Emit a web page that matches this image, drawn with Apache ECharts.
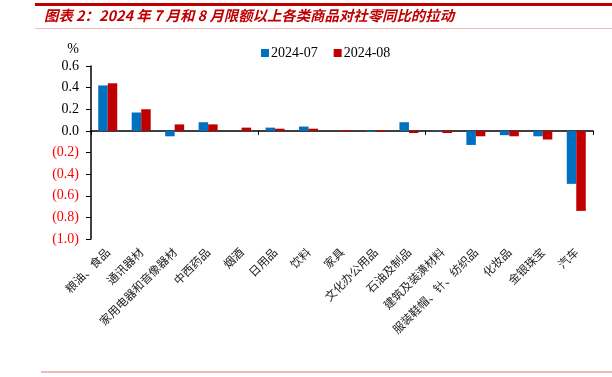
<!DOCTYPE html>
<html>
<head>
<meta charset="utf-8">
<script src="https://cdn.jsdelivr.net/npm/echarts@6/dist/echarts.min.js"></script>
<style>
  html, body { margin: 0; padding: 0; background: #fff; }
  #main { width: 612px; height: 377px; }
</style>
</head>
<body>
<div id="main"></div>
<script>
// 类目
var categories = ['粮油、食品', '通讯器材', '家用电器和音像器材', '中西药品', '烟酒', '日用品', '饮料', '家具',
    '文化办公用品', '石油及制品', '建筑及装潢材料', '服装鞋帽、针、纺织品', '化妆品', '金银珠宝', '汽车'];
// 对社零同比的拉动, %
var jul = [0.42, 0.17, -0.05, 0.08, 0.00, 0.03, 0.04, 0.00, -0.01, 0.08, -0.005, -0.13, -0.04, -0.05, -0.49];
var aug = [0.44, 0.20, 0.06, 0.06, 0.03, 0.02, 0.02, -0.01, -0.01, -0.02, -0.02, -0.05, -0.05, -0.08, -0.74];
var seriesNames = ['2024-07', '2024-08'];

var serif = '"Liberation Serif", "DejaVu Serif", serif';
var cjk = '"Noto Sans CJK SC", sans-serif';

var mychart = echarts.init(document.getElementById('main'));
var option = {
    animation: false,
    color: ['#0070C0', '#C00000'],
    grid: { left: 91, right: 19, top: 66, bottom: 138 },
    legend: {
        data: seriesNames,
        top: 41,
        left: 256,
        itemWidth: 8,
        itemHeight: 8,
        itemGap: 16,
        icon: 'rect',
        textStyle: { fontFamily: serif, fontSize: 14, color: '#000', padding: [0, 0, 0, -3] }
    },
    graphic: [
        { type: 'rect', shape: { x: 35, y: 3, width: 577, height: 3 }, style: { fill: '#C00000' } },
        {
            type: 'text', left: 44, top: 8,
            style: {
                text: '图表 2：2024 年 7 月和 8 月限额以上各类商品对社零同比的拉动',
                fontFamily: cjk, fontSize: 14.4, fontWeight: 'bold', fontStyle: 'italic', fill: '#C00000'
            }
        },
        { type: 'rect', shape: { x: 35, y: 28, width: 577, height: 1 }, style: { fill: '#F2B8B8' } },
        { type: 'rect', shape: { x: 41, y: 371, width: 571, height: 2 }, style: { fill: '#F2B8B8' } }
    ],
    xAxis: [
        {
            type: 'category',
            data: categories,
            axisLine: { onZero: true, lineStyle: { color: '#000', width: 1.5 } },
            axisTick: { show: true, length: 4, lineStyle: { color: '#000' } },
            axisLabel: { show: false },
            splitLine: { show: false }
        },
        {
            type: 'category',
            data: categories,
            position: 'bottom',
            axisLine: { show: false, onZero: false },
            axisTick: { show: false },
            axisLabel: {
                rotate: 45,
                margin: 11,
                interval: 0,
                fontFamily: cjk,
                fontSize: 11.5,
                color: '#222'
            }
        }
    ],
    yAxis: {
        type: 'value',
        min: -1.0,
        max: 0.6,
        interval: 0.2,
        name: '%',
        nameLocation: 'end',
        nameGap: 10,
        nameTextStyle: { fontFamily: serif, fontSize: 14, color: '#000', align: 'right', padding: [0, 12, 0, 0] },
        axisLine: { show: true, lineStyle: { color: '#000', width: 1.5 } },
        axisTick: { show: true, length: 5, lineStyle: { color: '#000' } },
        splitLine: { show: false },
        axisLabel: {
            fontFamily: serif,
            fontSize: 14,
            margin: 12,
            formatter: function (v) {
                var s = Math.abs(v).toFixed(1);
                return v < -1e-9 ? '(' + s + ')' : s;
            },
            color: function (v) {
                return v < -1e-9 ? '#FF0000' : '#000';
            }
        }
    },
    series: [
        {
            name: seriesNames[0],
            type: 'bar',
            data: jul,
            barWidth: 9.5,
            barGap: '0%'
        },
        {
            name: seriesNames[1],
            type: 'bar',
            data: aug,
            barWidth: 9.5,
            barGap: '0%'
        }
    ]
};
mychart.setOption(option);
</script>
</body>
</html>
